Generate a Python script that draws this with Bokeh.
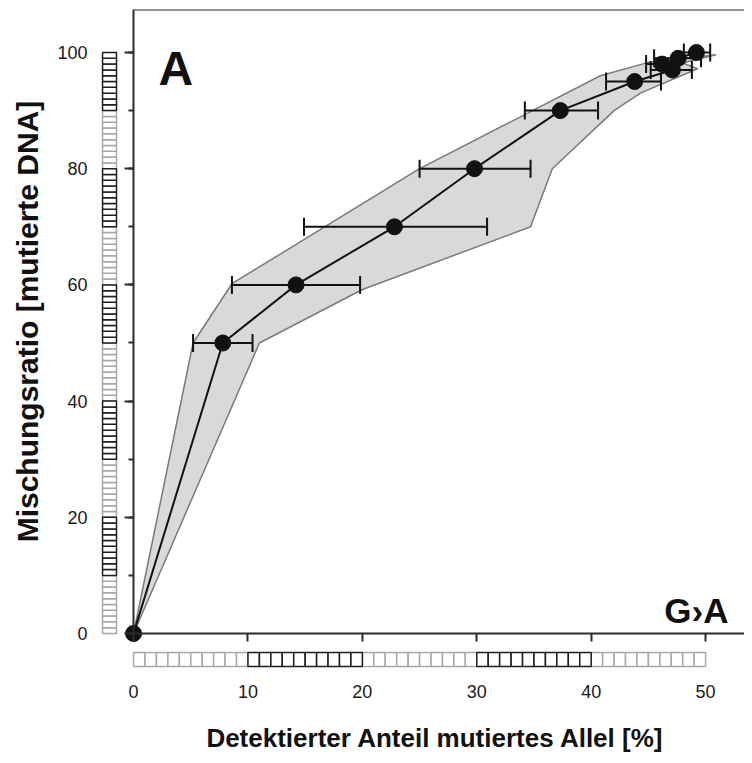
from bokeh.plotting import figure
from bokeh.models import (Range1d, LinearAxis, SingleIntervalTicker, FixedTicker,
                          Whisker, TeeHead, ColumnDataSource, Label)
from bokeh.embed import file_html
from bokeh.resources import INLINE

# ---------------- data ----------------
mix_ratio = [0, 50, 60, 70, 80, 90, 95, 97, 98, 99, 100]          # Mischungsratio [%]
detected  = [0, 7.8, 14.2, 22.8, 29.8, 37.3, 43.8, 47.1, 46.2, 47.6, 49.2]
err_low   = [0, 5.2, 8.6, 14.9, 25.0, 34.2, 41.3, 45.2, 44.8, 45.5, 48.1]
err_high  = [0, 10.4, 19.8, 30.9, 34.7, 40.6, 46.1, 48.8, 47.5, 49.6, 50.4]

band_x = [0, 5.2, 8.6, 25.0, 40.8, 45.0, 50.9, 48.0, 49.3, 44.3, 42.0, 36.6, 34.7, 20.0, 11.0, 0]
band_y = [0, 50, 60.2, 80, 96.0, 98.3, 99.6, 98.2, 97.2, 93.0, 90.0, 80.0, 70.0, 59.2, 50.0, 0]

x_ticks = [0, 10, 20, 30, 40, 50]
y_ticks = [0, 20, 40, 60, 80, 100]
scale_x_decades = [0, 10, 20, 30, 40, 50]
scale_y_decades = [0, 10, 20, 30, 40, 50, 60, 70, 80, 90, 100]

x_title = "Detektierter Anteil mutiertes  Allel [%]"
y_title = "Mischungsratio [mutierte DNA]"

# ---------------- figure ----------------
X0, X1 = -11.63, 53.4
Y0, Y1 = -21.0, 107.4

p = figure(width=744, height=755, x_range=Range1d(X0, X1), y_range=Range1d(Y0, Y1),
           output_backend="svg", toolbar_location=None,
           x_axis_type=None, y_axis_type=None,
           min_border_left=0, min_border_right=0, min_border_top=9, min_border_bottom=0)
p.outline_line_color = None
p.background_fill_color = "white"
p.border_fill_color = "white"

TICK_FONT = "Liberation Sans"
TITLE_FONT = "Liberation Sans"
AX_COLOR = "#2b2b2b"

xaxis = LinearAxis(fixed_location=0, bounds=(0, X1),
                   ticker=FixedTicker(ticks=x_ticks))
yaxis = LinearAxis(fixed_location=0, bounds=(0, Y1),
                   ticker=SingleIntervalTicker(interval=20, num_minor_ticks=2))
for ax in (xaxis, yaxis):
    ax.axis_line_color = AX_COLOR
    ax.axis_line_width = 2
    ax.major_tick_line_color = AX_COLOR
    ax.major_tick_line_width = 2
    ax.major_tick_in = 0
    ax.minor_tick_line_color = AX_COLOR
    ax.minor_tick_line_width = 2
    ax.minor_tick_in = 0
    ax.major_label_text_font = TICK_FONT
    ax.major_label_text_font_size = "18px"
    ax.major_label_text_color = "#1a1a1a"
    ax.axis_label_text_font = TITLE_FONT
    ax.axis_label_text_font_style = "bold"
    ax.axis_label_text_color = "#111111"

xaxis.major_tick_out = 8
xaxis.minor_tick_out = 0
xaxis.major_label_standoff = 44
xaxis.axis_label = x_title
xaxis.axis_label_text_font_size = "26px"
xaxis.axis_label_standoff = 21

yaxis.major_tick_out = 9
yaxis.minor_tick_out = 5
yaxis.major_label_standoff = 37
yaxis.axis_label = y_title
yaxis.axis_label_text_font_size = "30px"
yaxis.axis_label_standoff = 10

p.add_layout(xaxis, "below")
p.add_layout(yaxis, "left")

topaxis = LinearAxis(fixed_location=Y1, bounds=(0, X1), ticker=FixedTicker(ticks=[]),
                     axis_line_color=AX_COLOR, axis_line_width=2,
                     major_tick_out=0, minor_tick_out=0)
p.add_layout(topaxis, "above")

# ---------------- scale bars (grey / black decades) ----------------
DARK, LIGHT = "#1e1e1e", "#a8a8a8"
yb_l, yb_r = -2.71, -1.49      # x-extent of the vertical bar
xb_b, xb_t = -5.68, -3.27      # y-extent of the horizontal bar

for dark in (False, True):
    col = DARK if dark else LIGHT
    bots, tops = [], []
    for k in range(len(scale_y_decades) - 1):
        if (k % 2 == 1) == dark:
            for v in range(scale_y_decades[k], scale_y_decades[k + 1]):
                bots.append(v); tops.append(v + 1)
    p.quad(left=yb_l, right=yb_r, bottom=bots, top=tops, fill_color="white",
           line_color=col, line_width=1.5)
    lefts, rights = [], []
    for k in range(len(scale_x_decades) - 1):
        if (k % 2 == 1) == dark:
            for v in range(scale_x_decades[k], scale_x_decades[k + 1]):
                lefts.append(v); rights.append(v + 1)
    p.quad(left=lefts, right=rights, bottom=xb_b, top=xb_t, fill_color="white",
           line_color=col, line_width=1.5)

# ---------------- band, error bars, line, points ----------------
p.patch(band_x, band_y, fill_color="#d9d9d9", line_color="#7a7a7a", line_width=1.5,
        level="image")

err_src = ColumnDataSource(dict(y=mix_ratio[1:], lo=err_low[1:], hi=err_high[1:]))
w = Whisker(source=err_src, base="y", lower="lo", upper="hi", dimension="width",
            line_color="#111111", line_width=2, level="underlay",
            upper_head=TeeHead(size=18, line_color="#111111", line_width=2),
            lower_head=TeeHead(size=18, line_color="#111111", line_width=2))
p.add_layout(w)

p.line(detected, mix_ratio, line_color="#111111", line_width=2)
p.scatter(detected, mix_ratio, size=16, fill_color="#111111", line_color="#111111")

# ---------------- panel labels ----------------
p.add_layout(Label(x=2.19, y=97.2, text="A", text_font=TICK_FONT, text_font_style="bold",
                   text_font_size="48px", text_color="#111111", text_baseline="alphabetic"))
p.add_layout(Label(x=52.0, y=3.96, text="G\u203aA", text_font=TITLE_FONT, text_font_style="bold",
                   text_font_size="35px", text_color="#111111", text_align="right",
                   text_baseline="alphabetic"))

open("out.html", "w").write(file_html(p, INLINE))
